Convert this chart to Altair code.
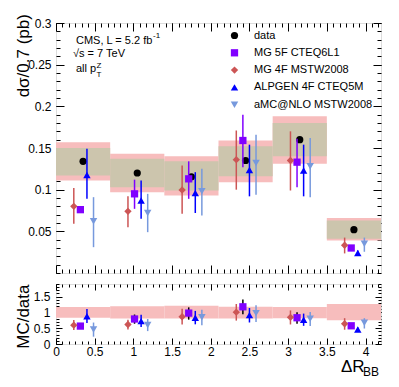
import altair as alt
import pandas as pd

FONT = "Liberation Sans"

# ---------------- data ----------------
bin_edges = [0.0, 0.7, 1.4, 2.1, 2.8, 3.5, 4.2]
data_val = [0.134, 0.120, 0.1155, 0.135, 0.160, 0.052]
gray_lo = [0.117, 0.103, 0.099, 0.116, 0.140, 0.041]
gray_hi = [0.150, 0.137, 0.134, 0.152, 0.180, 0.063]
hatch_lo = [0.111, 0.097, 0.093, 0.109, 0.131, 0.039]
hatch_hi = [0.157, 0.143, 0.140, 0.159, 0.188, 0.066]

mg5f_val = [0.076, 0.095, 0.113, 0.159, 0.133, 0.030]
mg5f_lo = [0.073, 0.077, 0.089, 0.127, 0.103, 0.028]
mg5f_hi = [0.079, 0.112, 0.134, 0.190, 0.161, 0.032]

mg4f_val = [0.080, 0.074, 0.0996, 0.136, 0.135, 0.0333]
mg4f_lo = [0.059, 0.055, 0.071, 0.100, 0.099, 0.0235]
mg4f_hi = [0.102, 0.092, 0.129, 0.171, 0.170, 0.0425]

alpgen_val = [0.1175, 0.087, 0.096, 0.1235, 0.123, 0.024]
alpgen_lo = [0.089, 0.065, 0.072, 0.092, 0.092, 0.021]
alpgen_hi = [0.149, 0.111, 0.121, 0.154, 0.154, 0.027]

amc_val = [0.062, 0.072, 0.098, 0.132, 0.128, 0.035]
amc_lo = [0.031, 0.049, 0.069, 0.094, 0.091, 0.0255]
amc_hi = [0.091, 0.095, 0.125, 0.166, 0.162, 0.0425]

series_names = ["data", "MG 5F CTEQ6L1", "MG 4F MSTW2008",
                "ALPGEN 4F CTEQ5M", "aMC@NLO MSTW2008"]

# ---------------- styles ----------------
colors = ["#000000", "#8000ff", "#cc5555", "#0000ff", "#7799dd"]
shapes = ["circle", "square", "diamond", "triangle-up", "triangle-down"]
sizes = [52, 56, 22, 56, 56]
x_shift = {"MG 5F CTEQ6L1": -0.035, "MG 4F MSTW2008": -0.12,
           "ALPGEN 4F CTEQ5M": 0.05, "aMC@NLO MSTW2008": 0.135}
GRAY = "#ccc5ad"
HATCH = "#f7bdbd"

# ---------------- tables ----------------
centers = [(a + b) / 2 for a, b in zip(bin_edges[:-1], bin_edges[1:])]
bands = pd.DataFrame({
    "x0": bin_edges[:-1], "x1": bin_edges[1:], "xc": centers,
    "data": data_val, "glo": gray_lo, "ghi": gray_hi,
    "hlo": hatch_lo, "hhi": hatch_hi,
})
bands["rhlo"] = bands["hlo"] / bands["data"]
bands["rhhi"] = bands["hhi"] / bands["data"]

mc_sets = {
    "MG 5F CTEQ6L1": (mg5f_val, mg5f_lo, mg5f_hi),
    "MG 4F MSTW2008": (mg4f_val, mg4f_lo, mg4f_hi),
    "ALPGEN 4F CTEQ5M": (alpgen_val, alpgen_lo, alpgen_hi),
    "aMC@NLO MSTW2008": (amc_val, amc_lo, amc_hi),
}
col_of = dict(zip(series_names, colors))
rows = []
for name, (v, lo, hi) in mc_sets.items():
    for i in range(len(v)):
        rows.append({
            "series": name, "x": centers[i] + x_shift[name],
            "y": v[i], "lo": lo[i], "hi": hi[i],
            "r": v[i] / data_val[i], "rlo": lo[i] / data_val[i],
            "rhi": hi[i] / data_val[i],
            "ecol": col_of[name],
            "recol": "#000000" if name == "MG 5F CTEQ6L1" else col_of[name],
        })
mc = pd.DataFrame(rows)
datapts = pd.DataFrame({"series": "data", "x": centers, "y": data_val})

# ---------------- helpers ----------------
xscale = alt.Scale(domain=[0, 4.2], nice=False, zero=False)
yscale_top = alt.Scale(domain=[0, 0.3], nice=False, zero=False)
yscale_rat = alt.Scale(domain=[0, 1.9], nice=False, zero=False)

x_major = [i * 0.5 for i in range(9)]
x_minor = [i / 12 for i in range(51)]
ytop_major = [0.05, 0.1, 0.15, 0.2, 0.25, 0.3]
ytop_minor = [round(i * 0.01, 2) for i in range(31)]
yrat_major = [0, 0.5, 1, 1.5]
yrat_minor = [round(i * 0.1, 1) for i in range(20)]


def axis(orient, values, size, labels=False, fmt=".1~f", pad=4,
         title=None, title_y=0):
    kw = dict(orient=orient, values=values, tickSize=size, offset=-size,
              domain=False, grid=False, labels=labels, ticks=True,
              tickColor="black", tickWidth=1, title=title)
    if labels:
        kw.update(format=fmt, labelFontSize=12, labelColor="black",
                  labelFont=FONT, labelPadding=pad, labelOverlap=False,
                  labelFlush=False)
    if title:
        # title position is relative to the (inward-shifted) axis origin
        kw.update(titleFontSize=17, titleFont=FONT, titleFontWeight="normal",
                  titleColor="black", titleAngle=270, titleAlign="right",
                  titleBaseline="alphabetic", titleX=-28 - size,
                  titleY=title_y)
    return alt.Axis(**kw)


leg = alt.Legend(title=None, orient="none", legendX=173, legendY=7,
                 labelFont=FONT, labelFontSize=11, labelColor="black",
                 labelOffset=14, rowPadding=5.3, padding=0,
                 symbolStrokeWidth=0)
color_enc = alt.Color("series:N", scale=alt.Scale(domain=series_names, range=colors), legend=leg)
shape_enc = alt.Shape("series:N", scale=alt.Scale(domain=series_names, range=shapes), legend=leg)
size_enc = alt.Size("series:N", scale=alt.Scale(domain=series_names, range=sizes), legend=leg)


def label(txt, x, y, size=11):
    return alt.Chart(pd.DataFrame({"t": [txt]})).mark_text(
        align="left", baseline="alphabetic", font=FONT, fontSize=size,
        color="black").encode(x=alt.value(x), y=alt.value(y), text="t:N")


# ---------------- top panel ----------------
t_hatch = alt.Chart(bands).mark_rect(fill=HATCH).encode(
    x=alt.X("x0:Q", scale=xscale, axis=axis("bottom", x_major, 8)),
    x2="x1",
    y=alt.Y("hlo:Q", scale=yscale_top,
            axis=axis("left", ytop_major, 8, labels=True, fmt=".2~f", pad=5,
                      title="dσ/0.7 (pb)", title_y=-9.4)),
    y2="hhi")
t_gray = alt.Chart(bands).mark_rect(fill=GRAY).encode(
    x=alt.X("x0:Q", scale=xscale, axis=axis("bottom", x_minor, 4)),
    x2="x1",
    y=alt.Y("glo:Q", scale=yscale_top, axis=axis("left", ytop_minor, 4)),
    y2="ghi")
t_data = alt.Chart(datapts).mark_point(filled=True, opacity=1).encode(
    x=alt.X("x:Q", scale=xscale, axis=None),
    y=alt.Y("y:Q", scale=yscale_top, axis=None),
    color=color_enc, shape=shape_enc, size=size_enc)
t_err = alt.Chart(mc).mark_rule(strokeWidth=1.5).encode(
    x=alt.X("x:Q", scale=xscale, axis=axis("top", x_major, 8)),
    y=alt.Y("lo:Q", scale=yscale_top, axis=axis("right", ytop_major, 8)),
    y2="hi",
    stroke=alt.Stroke("ecol:N", scale=None))
t_pts = alt.Chart(mc).mark_point(filled=True, opacity=1).encode(
    x=alt.X("x:Q", scale=xscale, axis=axis("top", x_minor, 4)),
    y=alt.Y("y:Q", scale=yscale_top, axis=axis("right", ytop_minor, 4)),
    color=color_enc, shape=shape_enc, size=size_enc)

top = alt.layer(
    t_hatch, t_gray, t_data, t_err, t_pts,
    label("CMS, L = 5.2 fb", 20, 20.6),
    label("-1", 97, 15, 8),
    label("√s = 7 TeV", 17, 34.3),
    label("all p", 20, 49),
    label("Z", 40.5, 45, 8),
    label("T", 40.5, 54, 8),
).resolve_axis(x="independent", y="independent").properties(width=325, height=250)

# ---------------- ratio panel ----------------
r_hatch = alt.Chart(bands).mark_rect(fill=HATCH).encode(
    x=alt.X("x0:Q", scale=xscale,
            axis=axis("bottom", x_major, 6, labels=True, fmt=".1~f", pad=2)),
    x2="x1",
    y=alt.Y("rhlo:Q", scale=yscale_rat,
            axis=axis("left", yrat_major, 6, labels=True, fmt=".1~f", pad=6,
                      title="MC/data", title_y=0)),
    y2="rhhi")
r_dummy = alt.Chart(bands).mark_rect(opacity=0).encode(
    x=alt.X("x0:Q", scale=xscale, axis=axis("bottom", x_minor, 3)),
    x2="x1",
    y=alt.Y("rhlo:Q", scale=yscale_rat, axis=axis("left", yrat_minor, 3)),
    y2="rhhi")
r_err = alt.Chart(mc).mark_rule(strokeWidth=1.5).encode(
    x=alt.X("x:Q", scale=xscale, axis=axis("top", x_major, 6)),
    y=alt.Y("rlo:Q", scale=yscale_rat, axis=axis("right", yrat_major, 6)),
    y2="rhi",
    stroke=alt.Stroke("recol:N", scale=None))
r_pts = alt.Chart(mc).mark_point(filled=True, opacity=1).encode(
    x=alt.X("x:Q", scale=xscale, axis=axis("top", x_minor, 3)),
    y=alt.Y("r:Q", scale=yscale_rat, axis=axis("right", yrat_minor, 3)),
    color=alt.Color("series:N", scale=alt.Scale(domain=series_names, range=colors), legend=None),
    shape=alt.Shape("series:N", scale=alt.Scale(domain=series_names, range=shapes), legend=None),
    size=alt.Size("series:N", scale=alt.Scale(domain=series_names, range=sizes), legend=None))

ratio = alt.layer(
    r_hatch, r_dummy, r_err, r_pts,
    label("ΔR", 285, 88.3, 17),
    label("BB", 307, 91.5, 12),
).resolve_axis(x="independent", y="independent").properties(width=325, height=60)

chart = alt.vconcat(top, ratio, spacing=9).resolve_scale(
    color="independent", shape="independent", size="independent"
).properties(
    padding={"left": 5, "top": 5, "right": 5, "bottom": 5}
).configure_view(stroke="black", strokeWidth=1).configure(font=FONT)

chart.save("out.html", embed_options={"renderer": "svg", "actions": False})
